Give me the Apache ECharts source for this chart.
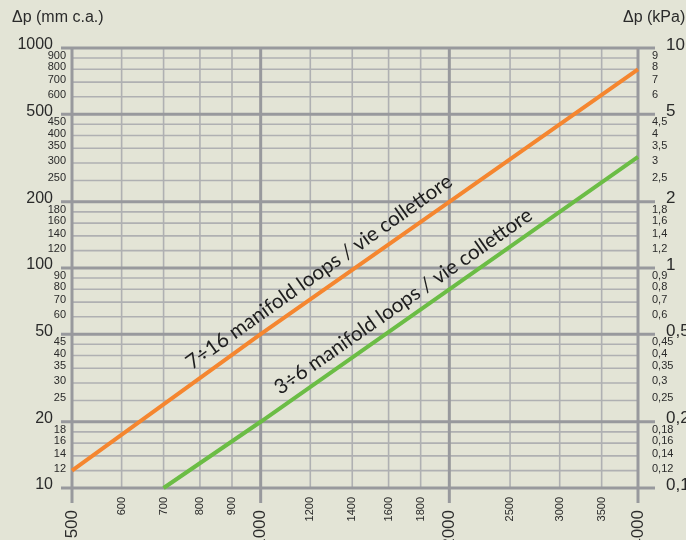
<!DOCTYPE html>
<html><head><meta charset="utf-8">
<script src="https://cdn.jsdelivr.net/npm/echarts@6/dist/echarts.min.js"></script>
<style>html,body{margin:0;padding:0;background:#e3e4d6}#c{width:686px;height:540px}</style>
</head><body><div id="c"></div>
<script>
// ---- data ----
const xMajor = [500, 1000, 2000, 4000];
const xMinor = [600, 700, 800, 900, 1200, 1400, 1600, 1800, 2500, 3000, 3500];
const yMajor = [10, 20, 50, 100, 200, 500, 1000];
const yMinor = [12, 14, 16, 18, 25, 30, 35, 40, 45, 60, 70, 80, 90, 120, 140, 160, 180, 250, 300, 350, 400, 450, 600, 700, 800, 900];
const orangeX = [500, 1000, 2000, 4000];
const orangeY = [12, 50, 200, 800];
const greenX = [700, 1000, 2000, 4000];
const greenY = [10, 20, 80, 320];
const curveLabels = ['7÷16 manifold loops / vie collettore', '3÷6 manifold loops / vie collettore'];
const labelAnchorX = [1285, 1750];
const labelAnchorY = [83, 61];
const X_MIN = 500, X_MAX = 4000, Y_MIN = 10, Y_MAX = 1000;

function kPa(v) { return String(Math.round(v) / 100).replace('.', ','); }

const FONT = '"Liberation Sans", Arial, sans-serif';
const TXT = '#2a2a2a';
const MAJ = '#98999d', MIN = '#afb0b2';

function hGrid(major) {
  return function (params, api) {
    const v = api.value(1);
    const a = api.coord([X_MIN, v]), b = api.coord([X_MAX, v]);
    const ch = [{
      type: 'line',
      shape: { x1: a[0] - (major ? 11 : 0), y1: a[1], x2: b[0] + (major ? 17 : 0), y2: b[1] },
      style: { stroke: major ? MAJ : MIN, lineWidth: major ? 3 : 1.6 }
    }, {
      type: 'text', x: a[0] - (major ? 19 : 6), y: a[1] - (major ? 3 : 2),
      style: { text: String(v), font: (major ? '16px ' : '11px ') + FONT, fill: TXT, align: 'right', verticalAlign: 'middle' }
    }, {
      type: 'text', x: b[0] + (major ? 28 : 14), y: b[1] - (major ? 3 : 2),
      style: { text: kPa(v), font: (major ? '17px ' : '11px ') + FONT, fill: TXT, align: 'left', verticalAlign: 'middle' }
    }];
    return { type: 'group', children: ch };
  };
}
function vGrid(major) {
  return function (params, api) {
    const v = api.value(0);
    const a = api.coord([v, Y_MIN]), b = api.coord([v, Y_MAX]);
    const ch = [{
      type: 'line',
      shape: { x1: a[0], y1: a[1] + (major ? 15 : 0), x2: b[0], y2: b[1] },
      style: { stroke: major ? MAJ : MIN, lineWidth: major ? 3 : 1.6 }
    }, {
      type: 'text', x: a[0], y: a[1] + (major ? 22 : 9), rotation: Math.PI / 2,
      style: { text: String(v), font: (major ? '17px ' : '11px ') + FONT, fill: TXT, align: 'right', verticalAlign: 'middle' }
    }];
    return { type: 'group', children: ch };
  };
}
function curveLabel(params, api) {
  const i = params.dataIndex;
  const xs = i === 0 ? orangeX : greenX, ys = i === 0 ? orangeY : greenY;
  const p0 = api.coord([xs[0], ys[0]]), p1 = api.coord([xs[xs.length - 1], ys[ys.length - 1]]);
  const ang = Math.atan2(p0[1] - p1[1], p1[0] - p0[0]);
  const p = api.coord([api.value(0), api.value(1)]);
  const off = 17;
  return {
    type: 'text',
    x: p[0] - off * Math.sin(ang), y: p[1] - off * Math.cos(ang),
    rotation: ang,
    style: { text: curveLabels[i], font: '20.5px Lato, "Open Sans", sans-serif', fill: '#1e1e1e', align: 'center', verticalAlign: 'middle' }
  };
}

const chart = echarts.init(document.getElementById('c'), null, { renderer: 'canvas' });
chart.setOption({
  backgroundColor: '#e3e4d6',
  animation: false,
  grid: { left: 72, right: 48, top: 48, bottom: 52 },
  xAxis: { type: 'log', logBase: 10, min: X_MIN, max: X_MAX, show: false },
  yAxis: { type: 'log', logBase: 10, min: Y_MIN, max: Y_MAX, show: false },
  graphic: [
    { type: 'text', left: 12, top: 10, style: { text: 'Δp (mm c.a.)', font: '16px ' + FONT, fill: TXT } },
    { type: 'text', left: 623, top: 10, style: { text: 'Δp (kPa)', font: '16px ' + FONT, fill: TXT } }
  ],
  series: [
    { type: 'custom', z: 1, silent: true, clip: false, renderItem: hGrid(false), data: yMinor.map(v => [X_MIN, v]) },
    { type: 'custom', z: 1, silent: true, clip: false, renderItem: vGrid(false), data: xMinor.map(v => [v, Y_MIN]) },
    { type: 'custom', z: 2, silent: true, clip: false, renderItem: hGrid(true), data: yMajor.map(v => [X_MIN, v]) },
    { type: 'custom', z: 2, silent: true, clip: false, renderItem: vGrid(true), data: xMajor.map(v => [v, Y_MIN]) },
    { type: 'line', z: 5, silent: true, symbol: 'none', data: orangeX.map((x, i) => [x, orangeY[i]]), lineStyle: { color: '#f5862f', width: 4 } },
    { type: 'line', z: 5, silent: true, symbol: 'none', data: greenX.map((x, i) => [x, greenY[i]]), lineStyle: { color: '#6bbd45', width: 4 } },
    { type: 'custom', z: 6, silent: true, clip: false, renderItem: curveLabel, data: labelAnchorX.map((x, i) => [x, labelAnchorY[i]]) }
  ]
});
</script></body></html>
